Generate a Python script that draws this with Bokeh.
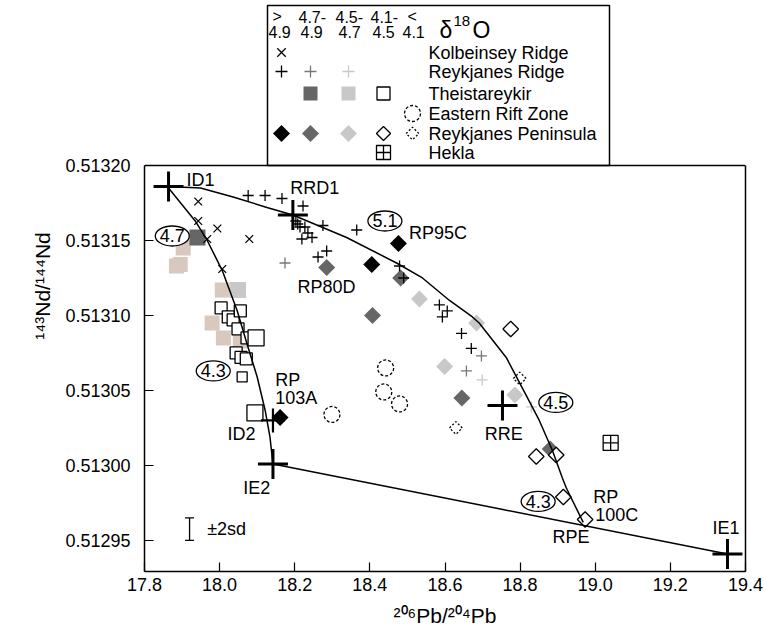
import math
from bokeh.plotting import figure
from bokeh.models import Range1d, FixedTicker, PrintfTickFormatter, LinearAxis, Span
from bokeh.embed import file_html
from bokeh.resources import INLINE
from bokeh.core.properties import value

FONT = "Liberation Sans"
DARK = "#666666"
LIGHT = "#c8c8c8"
GRAYP = "#777777"
TAN = "#d8c8be"

# ---------------- data ----------------
# Kolbeinsey Ridge (x)
kr_x = [17.943, 17.943, 17.994, 17.967, 18.079, 18.007]
kr_y = [0.513176, 0.513163, 0.513158, 0.513151, 0.513151, 0.513131]

# Reykjanes Ridge (+) by d18O class
rr_black_x = [18.076, 18.121, 18.166, 18.222, 18.275, 18.365, 18.285, 18.262, 18.227, 18.235,
              18.246, 18.219, 18.203, 18.208, 18.214, 18.479, 18.490, 18.585, 18.606, 18.593,
              18.644, 18.670]
rr_black_y = [0.513180, 0.513180, 0.513178, 0.513173, 0.513160, 0.513157, 0.513143, 0.513139,
              0.513159, 0.513155, 0.513152, 0.513151, 0.513163, 0.513161, 0.513159, 0.513133,
              0.513125, 0.513107, 0.513103, 0.513099, 0.513088, 0.513078]
rr_gray_x = [18.174, 18.697, 18.657]
rr_gray_y = [0.513135, 0.513073, 0.513063]
rr_light_x = [18.699, 18.830]
rr_light_y = [0.513057, 0.513039]

# Theistareykir (squares)
th_dark_x = [17.941]
th_dark_y = [0.513152]
th_light_x = [18.049]
th_light_y = [0.513117]
th_open_x = [18.004, 18.023, 18.036, 18.055, 18.049, 18.073, 18.044, 18.057, 18.071]
th_open_y = [0.513105, 0.513099, 0.513097, 0.513103, 0.513091, 0.513085, 0.513075, 0.513072, 0.513071]
th_open_big_x = [18.097, 18.094]
th_open_big_y = [0.513085, 0.513035]
th_open_small_x = [18.060]
th_open_small_y = [0.513059]
# Theistareykir without d18O (tan)
th_tan_x = [17.903, 17.895, 17.885, 18.007, 17.980, 18.010, 18.055]
th_tan_y = [0.513145, 0.513134, 0.513133, 0.513117, 0.513095, 0.513085, 0.513083]

# Eastern Rift Zone (dashed circles)
erz_x = [18.442, 18.437, 18.479, 18.299]
erz_y = [0.513065, 0.513049, 0.513041, 0.513034]

# Reykjanes Peninsula (diamonds)
rp_black_x = [18.476, 18.405, 18.161]
rp_black_y = [0.513148, 0.513134, 0.513032]
rp_dark_x = [18.285, 18.482, 18.407, 18.645, 18.880]
rp_dark_y = [0.513132, 0.513125, 0.513100, 0.513045, 0.513011]
rp_light_x = [18.532, 18.684, 18.599, 18.786]
rp_light_y = [0.513111, 0.513095, 0.513066, 0.513047]
rp_open_x = [18.775, 18.843, 18.896, 18.915, 18.973]
rp_open_y = [0.513091, 0.513006, 0.513007, 0.512979, 0.512964]
rp_dash_x = [18.799, 18.629]
rp_dash_y = [0.513058, 0.513025]

# Hekla
hk_x = [19.041]
hk_y = [0.513015]

# End members
em_x = [17.864, 18.195, 18.142, 19.352, 18.753]
em_y = [0.513186, 0.513167, 0.513001, 0.512941, 0.513040]
id2_x = [18.142]
id2_y = [0.513030]

# Mixing curves
mixA_x = [17.864, 17.949, 18.036, 18.126, 18.195, 18.338, 18.471, 18.540, 18.612, 18.673,
          18.691, 18.763, 18.805, 18.851, 18.886, 18.912, 18.923, 18.968]
mixA_y = [0.513186, 0.513185, 0.513179, 0.513172, 0.513167, 0.513152, 0.513135, 0.513125,
          0.513110, 0.513099, 0.513095, 0.513072, 0.513052, 0.513030, 0.513010, 0.512992,
          0.512985, 0.512962]
mixB_x = [17.864, 17.935, 17.967, 18.007, 18.047, 18.073, 18.100, 18.121, 18.134, 18.142]
mixB_y = [0.513185, 0.513163, 0.513150, 0.513130, 0.513103, 0.513081, 0.513059, 0.513037,
          0.513019, 0.513001]
mixC_x = [18.142, 19.352]
mixC_y = [0.513001, 0.512941]

# Text labels
lab_text = ["ID1", "RRD1", "RP95C", "RP80D", "RP", "103A", "ID2", "RRE", "IE2", "IE1",
            "RP", "100C", "RPE"]
lab_x = [17.912, 18.188, 18.504, 18.207, 18.148, 18.148, 18.021, 18.706, 18.063, 19.312,
         18.995, 19.000, 18.886]
lab_y = [0.513190, 0.513185, 0.513155, 0.513119, 0.513057, 0.513045, 0.513021, 0.513021,
         0.512985, 0.512958, 0.512979, 0.512967, 0.512952]

# Circled d18O values
circ_text = ["5.1", "4.7", "4.3", "4.5", "4.3"]
circ_x = [18.440, 17.874, 17.983, 18.895, 18.848]
circ_y = [0.513163, 0.513153, 0.513063, 0.513042, 0.512976]

# +-2sd error bar
sd_x = [17.920]
sd_lo = [0.512950]
sd_hi = [0.512965]

x_ticks = [17.8, 18.0, 18.2, 18.4, 18.6, 18.8, 19.0, 19.2, 19.4]
y_ticks = [0.51295, 0.51300, 0.51305, 0.51310, 0.51315, 0.51320]

# Legend content
head_text = [">", "4.9", "4.7-", "4.9", "4.5-", "4.7", "4.1-", "4.5", "<", "4.1"]
series_names = ["Kolbeinsey Ridge", "Reykjanes Ridge", "Theistareykir", "Eastern Rift Zone",
                "Reykjanes Peninsula", "Hekla"]

# ---------------- axes geometry ----------------
X_LO, X_HI = 17.8, 19.4
Y_LO, Y_HI = 0.5129293, 0.51320
PX_PER_Y = 1.5e6          # pixels per unit of 143Nd/144Nd
TOP_PX = 165              # space above the data box for the legend
Y_TOP = Y_HI + TOP_PX / PX_PER_Y

p = figure(width=765, height=638, output_backend="svg", toolbar_location=None,
           x_range=Range1d(X_LO, X_HI), y_range=Range1d(Y_LO, Y_TOP),
           min_border_left=144, min_border_right=20, min_border_top=0, min_border_bottom=67)
p.extra_x_ranges = {"px": Range1d(144, 745)}
p.extra_y_ranges = {"px": Range1d(571, 0)}
p.grid.visible = False
p.outline_line_color = None
p.background_fill_color = "white"
p.border_fill_color = "white"

for ax in (p.xaxis[0], p.yaxis[0]):
    ax.major_tick_in = 9
    ax.major_tick_out = 0
    ax.minor_tick_line_color = None
    ax.axis_line_color = "black"
    ax.axis_line_width = 1.5
    ax.major_tick_line_color = "black"
    ax.major_tick_line_width = 1.2
    ax.major_label_text_font = FONT
    ax.major_label_text_font_size = "18px"
    ax.major_label_text_color = "black"
    ax.axis_label_text_font = FONT
    ax.axis_label_text_font_style = "normal"
    ax.axis_label_text_font_size = "21px"
    ax.axis_label_text_color = "black"

p.xaxis.ticker = FixedTicker(ticks=x_ticks)
p.xaxis.formatter = PrintfTickFormatter(format="%.1f")
p.yaxis.ticker = FixedTicker(ticks=y_ticks)
p.yaxis.formatter = PrintfTickFormatter(format="%.5f")
p.yaxis.bounds = (Y_LO, Y_HI)
p.xaxis.major_label_standoff = 6
p.yaxis.major_label_standoff = 14
p.xaxis.axis_label = "²⁰⁶Pb/²⁰⁴Pb"
p.yaxis.axis_label = "¹⁴³Nd/¹⁴⁴Nd"
p.xaxis.axis_label_standoff = 10
p.yaxis.axis_label_standoff = 8

# right side and top of the data box
ra = LinearAxis(bounds=(Y_LO, Y_HI), ticker=FixedTicker(ticks=[]),
                major_tick_line_color=None, minor_tick_line_color=None,
                axis_line_color="black", axis_line_width=1.5,
                major_tick_out=0, major_tick_in=0)
p.add_layout(ra, "right")
p.add_layout(Span(location=Y_HI, dimension="width", line_color="black", line_width=1.5))

D = math.pi / 4

# tan squares (behind)
p.scatter(th_tan_x, th_tan_y, marker="square", size=15, fill_color=TAN, line_color=None)
p.scatter(th_dark_x, th_dark_y, marker="square", size=16, fill_color=DARK, line_color=None)
p.scatter(th_light_x, th_light_y, marker="square", size=16, fill_color=LIGHT, line_color=None)
p.scatter(th_open_x, th_open_y, marker="square", size=12, fill_color="white",
          line_color="black", line_width=1.3)
p.scatter(th_open_big_x, th_open_big_y, marker="square", size=16, fill_color="white",
          line_color="black", line_width=1.3)
p.scatter(th_open_small_x, th_open_small_y, marker="square", size=10, fill_color="white",
          line_color="black", line_width=1.3)

# Kolbeinsey
p.scatter(kr_x, kr_y, marker="x", size=11, line_color="black", line_width=1.3)

# Eastern rift zone
p.scatter(erz_x, erz_y, marker="circle", size=16, fill_color="white", line_color="black",
          line_width=1.3, line_dash="3 2")

# Reykjanes Peninsula
p.scatter(rp_dark_x, rp_dark_y, marker="square", angle=D, size=12, fill_color=DARK, line_color=None)
p.scatter(rp_light_x, rp_light_y, marker="square", angle=D, size=12, fill_color=LIGHT, line_color=None)
p.scatter(rp_black_x, rp_black_y, marker="square", angle=D, size=12, fill_color="black", line_color=None)
p.scatter(rp_open_x, rp_open_y, marker="square", angle=D, size=11, fill_color="white",
          line_color="black", line_width=1.3)
p.scatter(rp_dash_x, rp_dash_y, marker="square", angle=D, size=9, fill_color="white",
          line_color="black", line_width=1.3, line_dash="2 2")

# Hekla
p.scatter(hk_x, hk_y, marker="square_cross", size=15, fill_color="white", line_color="black",
          line_width=1.3)

# Reykjanes Ridge crosses
p.scatter(rr_light_x, rr_light_y, marker="cross", size=11, line_color=LIGHT, line_width=1.3)
p.scatter(rr_gray_x, rr_gray_y, marker="cross", size=11, line_color=GRAYP, line_width=1.3)
p.scatter(rr_black_x, rr_black_y, marker="cross", size=11, line_color="black", line_width=1.3)

# mixing lines
p.line(mixA_x, mixA_y, line_color="black", line_width=1.5)
p.line(mixB_x, mixB_y, line_color="black", line_width=1.5)
p.line(mixC_x, mixC_y, line_color="black", line_width=1.5)

# end members
p.scatter(em_x, em_y, marker="cross", size=30, line_color="black", line_width=3)
p.scatter(id2_x, id2_y, marker="cross", size=24, line_color="black", line_width=2.2)

# error bar
p.segment(sd_x, sd_lo, sd_x, sd_hi, line_color="black", line_width=1.3)
p.scatter(sd_x + sd_x, sd_lo + sd_hi, marker="dash", size=9, line_color="black", line_width=1.3)
p.text(x=[sd_x[0] + 0.047], y=[(sd_lo[0] + sd_hi[0]) / 2], text=["±2sd"], text_font=value(FONT),
       text_font_size="18px", text_baseline="middle", text_align="left", text_color="black")

# labels
p.text(x=lab_x, y=lab_y, text=lab_text, text_font=value(FONT), text_font_size="18px",
       text_baseline="middle", text_align="left", text_color="black")

# circled values
p.ellipse(x=circ_x, y=circ_y, width=34, height=20, width_units="screen", height_units="screen",
          fill_color="white", line_color="black", line_width=1.3)
p.text(x=circ_x, y=circ_y, text=circ_text, text_font=value(FONT), text_font_size="18px",
       text_baseline="middle", text_align="center", text_color="black")

# ---------------- legend panel (pixel coordinates above the data box) ----------------
L = dict(x_range_name="px", y_range_name="px")
p.quad(left=[267], right=[609], top=[5], bottom=[165], fill_color="white", line_color="black",
       line_width=1.5, **L)

head_x = [272, 268, 298, 300, 335, 338, 370, 372, 407, 402]
head_y = [16, 31, 16, 31, 16, 31, 16, 31, 16, 31]
p.text(x=head_x, y=head_y, text=head_text, text_font=value(FONT), text_font_size="16px",
       text_baseline="middle", text_align="left", text_color="black", **L)
p.text(x=[439, 472], y=[29, 29], text=["δ", "O"], text_font=value(FONT), text_font_size="23px",
       text_baseline="middle", text_align="left", text_color="black", **L)
p.text(x=[453], y=[20], text=["18"], text_font=value(FONT), text_font_size="15px",
       text_baseline="middle", text_align="left", text_color="black", **L)

row_y = [52, 71, 93, 113, 133, 152]
p.text(x=[428] * 6, y=row_y, text=series_names, text_font=value(FONT), text_font_size="18px",
       text_baseline="middle", text_align="left", text_color="black", **L)

c1, c2, c3, c4, c5 = 281, 310, 348, 383, 412
p.scatter([c1], [row_y[0]], marker="x", size=12, line_color="black", line_width=1.3, **L)
p.scatter([c1], [row_y[1]], marker="cross", size=12, line_color="black", line_width=1.3, **L)
p.scatter([c2], [row_y[1]], marker="cross", size=12, line_color=GRAYP, line_width=1.3, **L)
p.scatter([c3], [row_y[1]], marker="cross", size=12, line_color=LIGHT, line_width=1.3, **L)
p.scatter([c2], [row_y[2]], marker="square", size=14, fill_color=DARK, line_color=None, **L)
p.scatter([c3], [row_y[2]], marker="square", size=14, fill_color=LIGHT, line_color=None, **L)
p.scatter([c4], [row_y[2]], marker="square", size=13, fill_color="white", line_color="black",
          line_width=1.3, **L)
p.scatter([c5], [row_y[3]], marker="circle", size=16, fill_color="white", line_color="black",
          line_width=1.3, line_dash="3 2", **L)
p.scatter([c1], [row_y[4]], marker="square", angle=D, size=12, fill_color="black", line_color=None, **L)
p.scatter([c2], [row_y[4]], marker="square", angle=D, size=12, fill_color=DARK, line_color=None, **L)
p.scatter([c3], [row_y[4]], marker="square", angle=D, size=12, fill_color=LIGHT, line_color=None, **L)
p.scatter([c4], [row_y[4]], marker="square", angle=D, size=10, fill_color="white",
          line_color="black", line_width=1.3, **L)
p.scatter([c5], [row_y[4]], marker="square", angle=D, size=9, fill_color="white",
          line_color="black", line_width=1.3, line_dash="2 2", **L)
p.scatter([c4], [row_y[5]], marker="square_cross", size=14, fill_color="white",
          line_color="black", line_width=1.3, **L)

open("out.html", "w").write(file_html(p, INLINE))
